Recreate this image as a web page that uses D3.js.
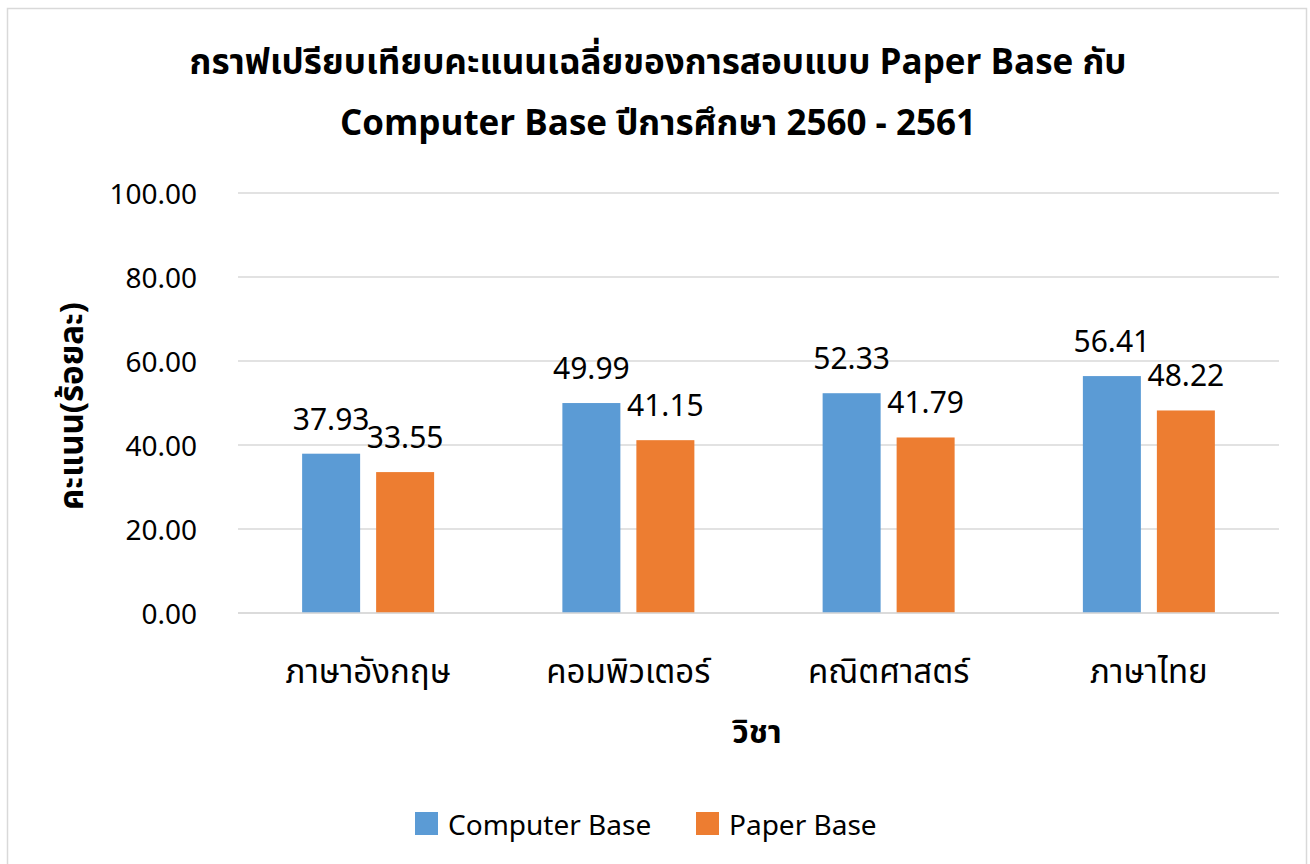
<!DOCTYPE html>
<html>
<head>
<meta charset="utf-8">
<script src="https://cdn.jsdelivr.net/npm/d3@7"></script>
<style>
  body { margin: 0; background: #fff; }
  svg text { font-family: "Noto Sans Thai", "Leelawadee UI", Tahoma, "Noto Sans", sans-serif; fill: #000; }
</style>
</head>
<body>
<svg id="chart"></svg>
<script>
// ---- data ----
const subjects = ["ภาษาอังกฤษ", "คอมพิวเตอร์", "คณิตศาสตร์", "ภาษาไทย"];
const seriesNames = ["Computer Base", "Paper Base"];
const computerBase = [37.93, 49.99, 52.33, 56.41];
const paperBase = [33.55, 41.15, 41.79, 48.22];
const yTicks = [0, 20, 40, 60, 80, 100];
const titleLines = ["กราฟเปรียบเทียบคะแนนเฉลี่ยของการสอบแบบ Paper Base กับ", "Computer Base ปีการศึกษา 2560 - 2561"];

const colors = ["#5B9BD5", "#ED7D31"];

const width = 1310, height = 864;
const svg = d3.select("#chart").attr("width", width).attr("height", height);

// chart border
svg.append("rect")
    .attr("x", 7.5).attr("y", 8.5)
    .attr("width", 1299).attr("height", 870)
    .attr("fill", "#fff")
    .attr("stroke", "#d9d9d9").attr("stroke-width", 1.5);

const margin = { top: 193, right: 31, bottom: 251, left: 238 };
const innerW = width - margin.left - margin.right;
const innerH = height - margin.top - margin.bottom;

const g = svg.append("g").attr("transform", `translate(${margin.left},${margin.top})`);

const x0 = d3.scaleBand().domain(subjects).range([0, innerW]);
const x1 = d3.scaleBand().domain(seriesNames).range([0, 132]).paddingInner(16 / 74);
const y = d3.scaleLinear().domain([0, 100]).range([innerH, 0]);

// gridlines
g.selectAll(".grid").data(yTicks).enter().append("line")
    .attr("x1", 0).attr("x2", innerW)
    .attr("y1", d => y(d)).attr("y2", d => y(d))
    .attr("stroke", "#d9d9d9").attr("stroke-width", 1.5);

// y tick labels
const yAxis = d3.axisLeft(y).tickValues(yTicks).tickFormat(d3.format(".2f")).tickSize(0).tickPadding(41);
g.append("g").call(yAxis)
    .call(s => s.select(".domain").remove())
    .selectAll("text")
    .attr("font-size", 28)
    .style("font-family", "Noto Sans, sans-serif")
    .attr("dy", "0.36em");

// bars
const data = subjects.map((s, i) => ({ subject: s, values: [computerBase[i], paperBase[i]] }));
const groups = g.selectAll(".grp").data(data).enter().append("g")
    .attr("transform", d => `translate(${x0(d.subject) + x0.bandwidth() / 2 - 66},0)`);

groups.selectAll("rect").data(d => d.values.map((v, j) => ({ v, j }))).enter().append("rect")
    .attr("x", d => x1(seriesNames[d.j]))
    .attr("y", d => y(d.v))
    .attr("width", x1.bandwidth())
    .attr("height", d => innerH - y(d.v))
    .attr("fill", d => colors[d.j]);

groups.selectAll(".lbl").data(d => d.values.map((v, j) => ({ v, j }))).enter().append("text")
    .attr("x", d => x1(seriesNames[d.j]) + x1.bandwidth() / 2)
    .attr("y", d => y(d.v) - 24)
    .attr("text-anchor", "middle")
    .attr("font-size", 30)
    .style("font-family", "Noto Sans, sans-serif")
    .text(d => d.v.toFixed(2));

// x axis line
g.append("line").attr("x1", 0).attr("x2", innerW).attr("y1", innerH).attr("y2", innerH)
    .attr("stroke", "#d9d9d9").attr("stroke-width", 1.5);

// category labels
g.selectAll(".cat").data(subjects).enter().append("text")
    .attr("x", d => x0(d) + x0.bandwidth() / 2)
    .attr("y", innerH + 70)
    .attr("text-anchor", "middle")
    .attr("font-size", 33)
    .text(d => d);

// title
svg.selectAll(".title").data(titleLines).enter().append("text")
    .attr("x", 658)
    .attr("y", (d, i) => 74 + i * 61)
    .attr("text-anchor", "middle")
    .attr("font-size", 35)
    .attr("font-weight", "bold")
    .text(d => d);

// axis titles
svg.append("text")
    .attr("x", 757).attr("y", 743)
    .attr("text-anchor", "middle")
    .attr("font-size", 32).attr("font-weight", "bold")
    .text("วิชา");

svg.append("text")
    .attr("transform", "translate(83,406) rotate(-90)")
    .attr("text-anchor", "middle")
    .attr("font-size", 33).attr("font-weight", "bold")
    .text("คะแนน(ร้อยละ)");

// legend
const legendX = [415, 696];
const legend = svg.selectAll(".leg").data(seriesNames).enter().append("g")
    .attr("transform", (d, i) => `translate(${legendX[i]},812)`);
legend.append("rect").attr("width", 23).attr("height", 23).attr("fill", (d, i) => colors[i]);
legend.append("text")
    .attr("x", 33).attr("y", 23)
    .attr("font-size", 28)
    .style("font-family", "Noto Sans, sans-serif")
    .text(d => d);
</script>
</body>
</html>
